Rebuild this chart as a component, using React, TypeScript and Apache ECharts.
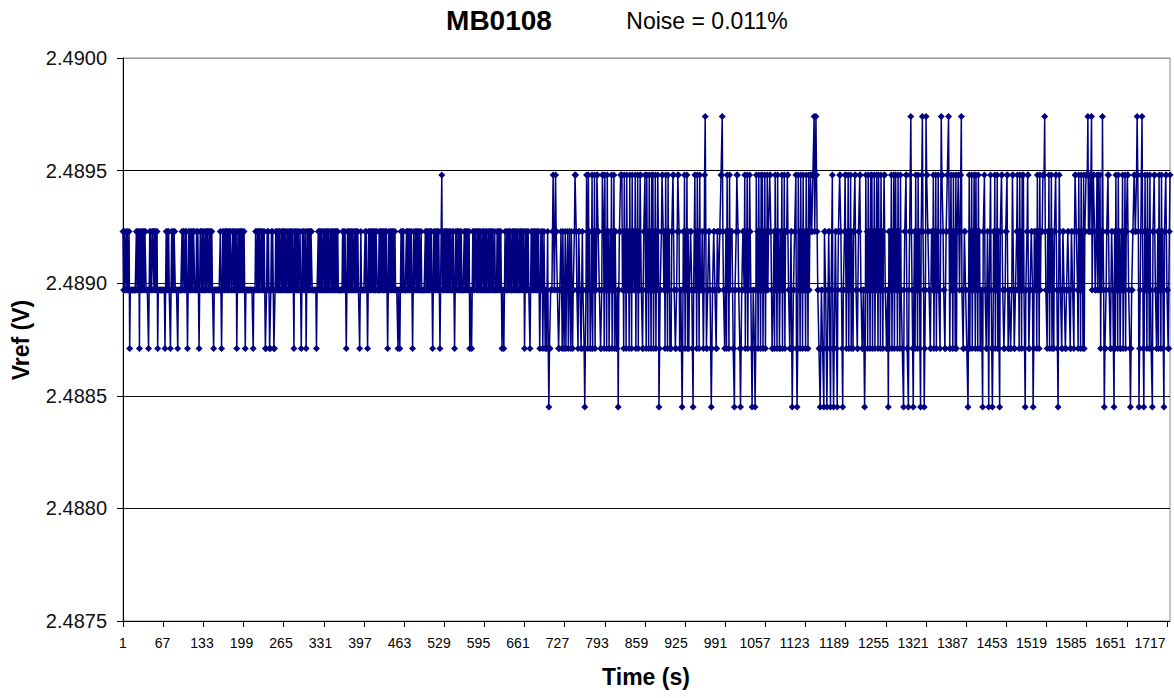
import React, { useEffect, useRef } from 'react';
import * as echarts from 'echarts';

const TITLE = 'MB0108';
const NOISE_LABEL = 'Noise = 0.011%';
const X_NAME = 'Time (s)';
const Y_NAME = 'Vref (V)';

const Y_MIN = 2.4875;
const Y_MAX = 2.49;
const Y_STEP = 0.0005;
const X_LABEL_EVERY = 66;

// quantisation levels of the measured reference voltage (V)
const LEVELS = [2.48845, 2.48871, 2.48897, 2.48923, 2.48948, 2.48974];

// one digit per sample (index into LEVELS), 70 samples per row
const SAMPLE_ROWS = [
  '3232232322' + '3122222222' + '2232323132' + '3232323322' + '2212323223' + '3232323122' + '2222222221',
  '2323232212' + '3232332222' + '1222222323' + '3232321232' + '3232323322' + '2323212332' + '3232232323',
  '3232323221' + '2222222222' + '3212323232' + '3232323322' + '3232323123' + '2323232323' + '2122222222',
  '2222122233' + '2323233232' + '3232112323' + '2112323211' + '2323232322' + '3232323232' + '2323232323',
  '2132323232' + '2321232322' + '3123232323' + '3222222212' + '2323232322' + '3232323232' + '2323232323',
  '2323222222' + '2323232123' + '2323232322' + '3232323221' + '2322222232' + '3212323232' + '3232323322',
  '2323232323' + '2323212323' + '2323232322' + '2212212323' + '2322223232' + '3232321232' + '2323232322',
  '3222222323' + '2323232321' + '2323232323' + '2123423232' + '3232323232' + '2323212323' + '3232323222',
  '2323232323' + '1221232323' + '3232323232' + '2323232322' + '3232323232' + '2322232323' + '2321221232',
  '2323232322' + '3232323232' + '2323232323' + '1232323221' + '2323232323' + '2323212323' + '1232121231',
  '0112223432' + '2433221122' + '3213212312' + '2312321321' + '2234432213' + '3221132210' + '1243142311',
  '2413241324' + '4332211244' + '3142314231' + '1324132413' + '3112023344' + '4231423142' + '2314231423',
  '3241324132' + '4422113342' + '1423142314' + '2413241324' + '3012234432' + '3142314231' + '1133442211',
  '2344311220' + '1324132413' + '1223321022' + '4231423142' + '2233124531' + '1223321012' + '2332211332',
  '2334453221' + '2314231423' + '3321102234' + '4322101223' + '3241324132' + '4321012210' + '1423142314',
  '2413241324' + '2334432112' + '3142314231' + '1324132413' + '3344221133' + '0122334101' + '4231423142',
  '2314231423' + '4433445345' + '4322110122' + '1103321012' + '3310224101' + '2331023344' + '3210223441',
  '3241324132' + '1334422113' + '3442211220' + '1423142314' + '2413241324' + '3142314231' + '3442211203',
  '1324132413' + '4231423142' + '2110233441' + '1023453210' + '2314231423' + '1034532012' + '5443322113',
  '3241324132' + '4221354432' + '2113344531' + '1423142314' + '1334423452' + '2113322110' + '2413241324',
  '3142314231' + '1220334221' + '1320234210' + '1324132413' + '1033442211' + '2334411221' + '1244211223',
  '4231423142' + '4210223441' + '1223320133' + '2314231423' + '3344453221' + '3241324132' + '1334421024',
  '3221133221' + '1223322113' + '3221344332' + '1423142314' + '1334445343' + '3452344322' + '3424324132',
  '5320112334' + '4221133210' + '3142314231' + '1324132413' + '3442210122' + '3344334543' + '0123453102',
  '4231423142' + '1103344221' + '2314231423' + '1033442211' + '34',
];

const levelIndex: number[] = SAMPLE_ROWS.join('').split('').map(Number);
const vref: number[] = levelIndex.map((i) => LEVELS[i]);
const timeLabels: string[] = vref.map((_, i) => String(i + 1));

const FONT = '"Liberation Sans", Arial, Helvetica, sans-serif';

export default function App() {
  const ref = useRef<HTMLDivElement>(null);

  useEffect(() => {
    if (!ref.current) return;
    const chart = echarts.init(ref.current, undefined, { renderer: 'svg' });
    chart.setOption({
      animation: false,
      backgroundColor: '#ffffff',
      grid: [
        {
          left: 123,
          right: 4,
          top: 58,
          bottom: 77,
          show: true,
          borderColor: '#8c8c8c',
          borderWidth: 1,
          backgroundColor: 'transparent',
        },
        // labels of the time axis sit on a slightly tighter pitch than its ticks
        { left: 123, right: 21, top: 58, bottom: 77, show: false },
      ],
      xAxis: [
        {
          type: 'category',
          gridIndex: 0,
          data: timeLabels,
          boundaryGap: false,
          axisLine: { show: true, lineStyle: { color: '#000', width: 1 } },
          axisTick: {
            show: true,
            interval: X_LABEL_EVERY - 1,
            length: 6,
            lineStyle: { color: '#000', width: 1 },
          },
          axisLabel: { show: false },
          splitLine: { show: false },
        },
        {
          type: 'category',
          gridIndex: 1,
          data: timeLabels,
          boundaryGap: false,
          axisLine: { show: false },
          axisTick: { show: false },
          axisLabel: {
            interval: X_LABEL_EVERY - 1,
            color: '#000',
            fontSize: 14,
            fontFamily: FONT,
            margin: 15,
          },
          splitLine: { show: false },
        },
      ],
      yAxis: [
        {
          type: 'value',
          gridIndex: 0,
          min: Y_MIN,
          max: Y_MAX,
          interval: Y_STEP,
          axisLine: { show: true, lineStyle: { color: '#000', width: 1 } },
          axisTick: { show: true, length: 6, lineStyle: { color: '#000', width: 1 } },
          axisLabel: {
            color: '#111',
            fontSize: 20,
            fontFamily: FONT,
            margin: 16,
            formatter: (v: number) => v.toFixed(4),
          },
          splitLine: {
            show: true,
            lineStyle: { color: ['#000', '#111', '#111', '#111', '#000', '#999'], width: 1 },
          },
        },
        {
          type: 'value',
          gridIndex: 1,
          min: Y_MIN,
          max: Y_MAX,
          show: false,
        },
      ],
      series: [
        {
          type: 'line',
          xAxisIndex: 0,
          yAxisIndex: 0,
          data: vref,
          symbol: 'diamond',
          symbolSize: 7,
          showAllSymbol: true,
          clip: false,
          lineStyle: { color: '#000080', width: 1.5 },
          itemStyle: { color: '#000080' },
          emphasis: { disabled: true },
          z: 3,
        },
      ],
      graphic: [
        {
          type: 'text',
          x: 499,
          y: 20,
          style: {
            text: TITLE,
            font: `bold 28px ${FONT}`,
            fill: '#000',
            align: 'center',
            verticalAlign: 'middle',
          },
        },
        {
          type: 'text',
          x: 707,
          y: 21,
          style: {
            text: NOISE_LABEL,
            font: `23px ${FONT}`,
            fill: '#000',
            align: 'center',
            verticalAlign: 'middle',
          },
        },
        {
          type: 'text',
          x: 646,
          y: 677,
          style: {
            text: X_NAME,
            font: `bold 23px ${FONT}`,
            fill: '#000',
            align: 'center',
            verticalAlign: 'middle',
          },
        },
        {
          type: 'text',
          x: 21,
          y: 340,
          rotation: Math.PI / 2,
          style: {
            text: Y_NAME,
            font: `bold 23px ${FONT}`,
            fill: '#000',
            align: 'center',
            verticalAlign: 'middle',
          },
        },
      ],
    });
    return () => chart.dispose();
  }, []);

  return (
    <div
      ref={ref}
      style={{ position: 'fixed', left: 0, top: 0, width: 1174, height: 698, background: '#fff' }}
    />
  );
}
